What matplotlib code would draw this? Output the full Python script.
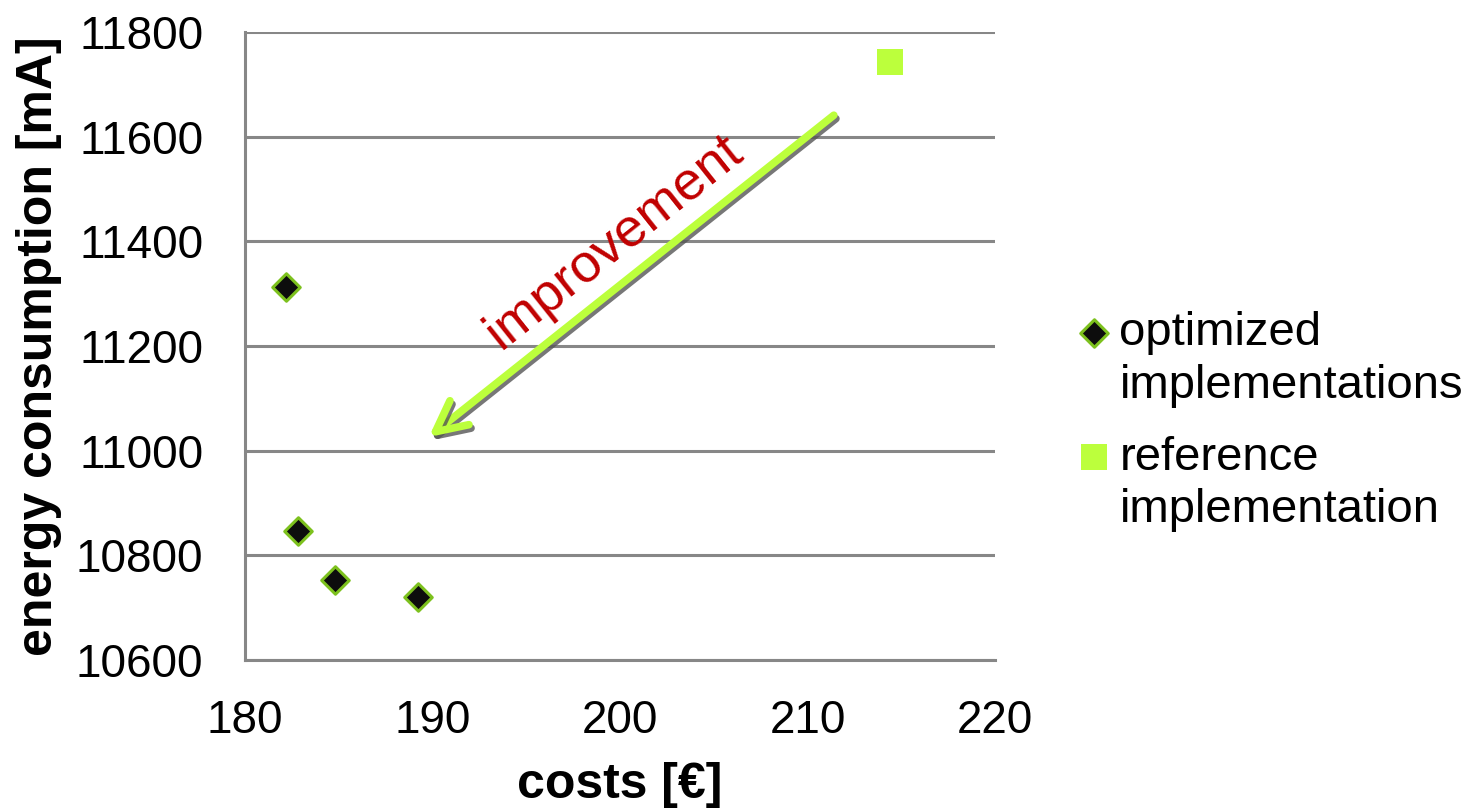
import matplotlib
matplotlib.use("Agg")
import matplotlib.pyplot as plt
import matplotlib.patheffects as pe
from matplotlib.lines import Line2D

plt.rcParams['font.family'] = ['Liberation Sans', 'DejaVu Sans']

# costs [€] vs. energy consumption [mA]
opt_costs = [182.2, 182.8, 184.8, 189.2]
opt_energy = [11312, 10846, 10753, 10720]
ref_costs = [214.4]
ref_energy = [11743]

# arrow from the reference towards the optimized front
arrow_start = (211.4, 11641)
arrow_end = (189.8, 11026)

grey = '#878787'
lime = '#BCFF3C'

fig = plt.figure(figsize=(14.79, 8.08), dpi=100)
ax = fig.add_axes([0.1657, 0.1832, 0.5071, 0.7772])

opt = ax.scatter(opt_costs, opt_energy, marker='D', s=14**2, c='#0d0d0d',
                 edgecolors='#7DC11E', linewidths=2.2, zorder=3)
ref = ax.scatter(ref_costs, ref_energy, marker='s', s=19**2, c=lime,
                 linewidths=0, zorder=3)

ax.annotate('', xy=arrow_end, xytext=arrow_start,
            arrowprops=dict(arrowstyle='->,head_length=1.1,head_width=0.55',
                            mutation_scale=20, color=lime, lw=5.5,
                            shrinkA=0, shrinkB=0,
                            path_effects=[pe.SimpleLineShadow(offset=(1.5, -2.5),
                                                              shadow_color='#555555',
                                                              alpha=0.8),
                                          pe.Normal()]),
            zorder=2)
ax.text(199.7, 11399, 'improvement', color='#C00000', fontsize=39,
        rotation=38.5, ha='center', va='center', rotation_mode='anchor')

ax.set_xlim(180, 220)
ax.set_ylim(10600, 11800)
ax.set_xticks(range(180, 221, 10))
ax.set_yticks(range(10600, 11801, 200))

ax.grid(axis='y', color=grey, lw=2.2)
ax.set_axisbelow(True)
for s in ('top', 'right'):
    ax.spines[s].set_visible(False)
for s in ('left', 'bottom'):
    ax.spines[s].set_color(grey)
    ax.spines[s].set_linewidth(2.2)

ax.tick_params(axis='both', length=0, labelsize=33)
ax.tick_params(axis='y', pad=30)
ax.tick_params(axis='x', pad=28)

ax.set_xlabel('costs [€]', fontsize=36, fontweight='bold', labelpad=14)
ax.set_ylabel('energy consumption [mA]', fontsize=36, fontweight='bold',
              labelpad=10)

# two-line legend entries with the marker beside the first line
blank = Line2D([], [], linestyle='none')
leg_kw = dict(loc='upper left', frameon=False, fontsize=34, handletextpad=0.08,
              labelspacing=0.18, handlelength=0.9, borderpad=0,
              borderaxespad=0)
fig.legend([opt, blank], ['optimized', 'implementations'],
           bbox_to_anchor=(0.7256, 0.615), **leg_kw)
fig.legend([ref, blank], ['reference', 'implementation'],
           bbox_to_anchor=(0.7256, 0.461), **leg_kw)

fig.savefig('out.png', dpi=100)
